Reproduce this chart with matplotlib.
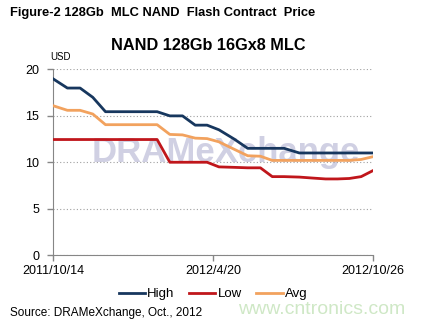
import matplotlib
matplotlib.use("Agg")
import matplotlib.pyplot as plt
import pandas as pd

plt.rcParams['font.family'] = ['Liberation Sans', 'DejaVu Sans']

dates = ["2011-10-14", "2011-10-31", "2011-11-15", "2011-11-30", "2011-12-15",
         "2011-12-30", "2012-01-13", "2012-01-31", "2012-02-14", "2012-02-29",
         "2012-03-15", "2012-03-30", "2012-04-13", "2012-04-27", "2012-05-15",
         "2012-05-31", "2012-06-15", "2012-06-29", "2012-07-13", "2012-07-31",
         "2012-08-15", "2012-08-31", "2012-09-14", "2012-09-28", "2012-10-12",
         "2012-10-26"]
high = [19.0, 18.0, 18.0, 17.0, 15.45, 15.45, 15.45, 15.45, 15.45, 15.0,
        15.0, 14.0, 14.0, 13.5, 12.5, 11.5, 11.5, 11.5, 11.5, 11.0,
        11.0, 11.0, 11.0, 11.0, 11.0, 11.0]
low = [12.45, 12.45, 12.45, 12.45, 12.45, 12.45, 12.45, 12.45, 12.45, 10.0,
       10.0, 10.0, 10.0, 9.5, 9.45, 9.4, 9.4, 8.45, 8.45, 8.4,
       8.3, 8.2, 8.2, 8.25, 8.45, 9.1]
avg = [16.1, 15.6, 15.6, 15.2, 14.05, 14.05, 14.05, 14.05, 14.05, 13.0,
       12.95, 12.6, 12.55, 12.2, 11.4, 10.7, 10.65, 10.2, 10.2, 10.2,
       10.2, 10.2, 10.2, 10.2, 10.3, 10.6]
series_names = ["High", "Low", "Avg"]
series_colors = ["#17375E", "#C0161B", "#F2A25E"]
tick_dates = ["2011-10-14", "2012-04-20", "2012-10-26"]
tick_labels = ["2011/10/14", "2012/4/20", "2012/10/26"]
y_ticks = [0, 5, 10, 15, 20]

x = pd.to_datetime(dates)

fig = plt.figure(figsize=(4.24, 3.25), dpi=100)
ax = fig.add_axes([53/424, 1-255/325, 320/424, (255-69.5)/325])

# watermark
ax.text(0.54, 0.555, "DRAMeXchange", transform=ax.transAxes, ha='center', va='center',
        fontsize=25, fontweight='bold', color='#bcbcd8', alpha=0.7, zorder=0)

for vals, name, col in zip([high, low, avg], series_names, series_colors):
    ax.plot(x, vals, color=col, lw=2, label=name, zorder=3)

ax.set_ylim(0, 20)
ax.set_yticks(y_ticks)
ax.set_xlim(pd.Timestamp(tick_dates[0]), pd.Timestamp(tick_dates[-1]))
ax.set_xticks(pd.to_datetime(tick_dates))
ax.set_xticklabels(tick_labels)
ax.tick_params(axis='both', labelsize=9, color='#868686', length=4, width=1,
               labelcolor='#000000')
ax.tick_params(axis='y', pad=6)
ax.tick_params(axis='x', pad=3)
ax.grid(axis='y', linestyle=(0, (1, 2)), color='#a0a0a0', lw=0.8)
for s in ['top', 'right']:
    ax.spines[s].set_visible(False)
for s in ['left', 'bottom']:
    ax.spines[s].set_color('#868686')
ax.set_axisbelow(True)

ax.text(-0.01, 1.065, "USD", transform=ax.transAxes, fontsize=7, ha='left', va='center')

fig.text(10/424, 1-13/325, "Figure-2 128Gb  MLC NAND  Flash Contract  Price",
         fontsize=9.3, fontweight='bold', ha='left', va='center')
fig.text(208/424, 1-46/325, "NAND 128Gb 16Gx8 MLC", fontsize=11.7, fontweight='bold',
         ha='center', va='center')

leg = ax.legend(loc='upper center', bbox_to_anchor=(0.5, -0.115), ncol=3, frameon=False,
                fontsize=9.5, handlelength=2.0, columnspacing=1.1, handletextpad=0.15)

fig.text(10/424, 1-313/325, "Source: DRAMeXchange, Oct., 2012", fontsize=8.5,
         ha='left', va='center')
fig.text(322/424, 1-310/325, "www.cntronics.com", fontsize=14, color='#cfe8c6',
         ha='center', va='center')

fig.savefig("out.png", dpi=100)
